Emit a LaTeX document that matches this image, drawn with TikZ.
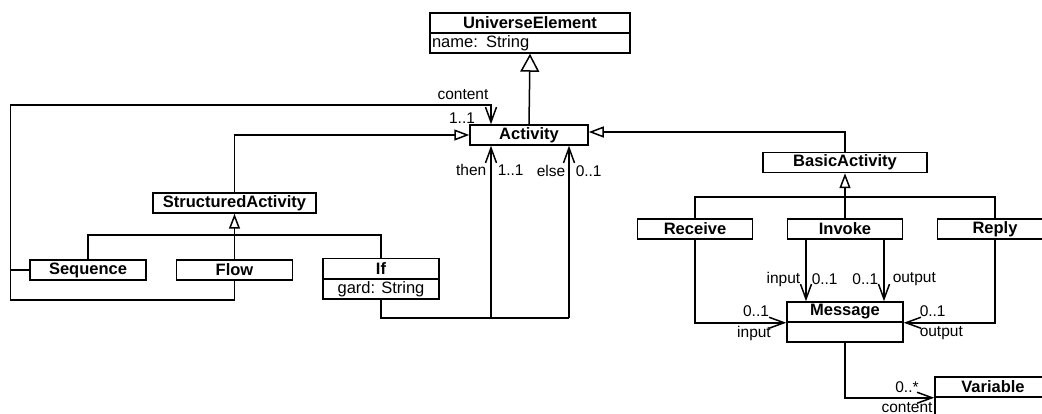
\documentclass[tikz,border=0pt]{standalone}
\usepackage{fontspec}
\setmainfont{Liberation Sans}
\usetikzlibrary{arrows.meta}
\begin{document}
\begin{tikzpicture}[x=1pt,y=-1pt, line width=1.5pt,
  cls/.style={draw, rectangle, inner sep=0pt, minimum height=20pt, font=\fontsize{16.5}{18}\selectfont\bfseries},
  attr/.style={draw, rectangle, inner sep=0pt, minimum height=20pt, font=\fontsize{16.5}{18}\selectfont},
  lbl/.style={inner sep=0pt, font=\fontsize{15.5}{16}\selectfont},
  gen/.style={-{Triangle[open,length=15pt,width=11pt]}},
  biggen/.style={-{Triangle[open,length=18pt,width=19pt]}},
  assoc/.style={-{Straight Barb[length=15pt,width=11pt]}},
  ]
\useasboundingbox (0,0) rectangle (1042,414);
\clip (0,0) rectangle (1042,414);

% classes
\node[cls, minimum width=200pt] (ue) at (530,23) {UniverseElement};
\node[attr, minimum width=200pt, text width=196pt, align=left] (uea) at (530,43) {name: String};
\node[cls, minimum width=118pt] (act) at (529,135) {Activity};
\node[cls, minimum width=163pt] (sa) at (234.5,203) {StructuredActivity};
\node[cls, minimum width=164pt] (ba) at (845,162.5) {BasicActivity};
\node[cls, minimum width=116pt] (seq) at (88,270) {Sequence};
\node[cls, minimum width=116pt] (flow) at (234.5,270) {Flow};
\node[cls, minimum width=116pt] (ifc) at (381,268.5) {If};
\node[attr, minimum width=116pt] (ifa) at (381,289) {gard: String};
\node[cls, minimum width=115pt] (rec) at (695,229) {Receive};
\node[cls, minimum width=115pt] (inv) at (845,229) {Invoke};
\node[cls, minimum width=115pt] (rep) at (995,229) {Reply};
\node[cls, minimum width=116pt] (msg) at (845,312) {Message};
\node[attr, minimum width=116pt] (msga) at (845,332) {};
\node[cls, minimum width=116pt] (var) at (993,387) {Variable};
\node[attr, minimum width=116pt] (vara) at (993,407) {};

% helper coordinates
\coordinate (sabar) at (235,235);
\coordinate (babar) at (845,197);
\coordinate (cbl) at (10.7,300);
\coordinate (ctl) at (10.7,105);
\coordinate (thenfoot) at (491,318);
\coordinate (elsefoot) at (569,318);

% generalizations
\draw[biggen] (act.north) -- (uea.south);
\draw[gen] (sa.north) |- (act.west);
\draw[gen] (ba.north) |- ([yshift=3pt]act.east);
\draw[gen] (flow.north) -- (sa.south);
\draw (seq.north) |- (sabar) -| (ifc.north);
\draw[gen] (inv.north) -- (ba.south);
\draw (rec.north) |- (babar) -| (rep.north);

% content association of Sequence / Flow
\draw (seq.west) -- (seq.west -| cbl);
\draw[assoc] (flow.south) |- (cbl) -- (ctl) -| ([xshift=-38pt]act.north);
\node[lbl] (lcontent) at (463,95) {content};
\node[lbl] (lc11) at (462,118) {1..1};

% then / else
\draw (ifa.south) |- (elsefoot);
\draw[assoc] (thenfoot) -- ([xshift=-38pt]act.south);
\draw[assoc] (elsefoot) -- ([xshift=40pt]act.south);
\node[lbl, anchor=east] (lthen) at (487,170) {then};
\node[lbl, anchor=west] (lthenm) at (497,170) {1..1};
\node[lbl, anchor=east] (lelse) at (566,171) {else};
\node[lbl, anchor=west] (lelsem) at (575,171) {0..1};

% messages
\draw[assoc] ([xshift=-39pt]inv.south) -- ([xshift=-39pt]msg.north);
\draw[assoc] ([xshift=39pt]inv.south) -- ([xshift=39pt]msg.north);
\node[lbl, anchor=east] (linin) at (801,279) {input};
\node[lbl, anchor=west] (linm) at (811,279) {0..1};
\node[lbl, anchor=east] (loutm) at (879,279) {0..1};
\node[lbl, anchor=west] (lout) at (892,279) {output};

\draw[assoc] (rec.south) |- (msg.south west);
\node[lbl] (lrm) at (756,311) {0..1};
\node[lbl] (lrin) at (754,333) {input};
\draw[assoc] (rep.south) |- (msg.south east);
\node[lbl, anchor=west] (lpm) at (919,311) {0..1};
\node[lbl, anchor=west] (lpout) at (919,333) {output};

\draw[assoc] (msga.south) |- (var.south west);
\node[lbl] (lvm) at (907,387) {0..*};
\node[lbl, anchor=south] (lvc) at (907,413.5) {content};
\end{tikzpicture}
\end{document}
